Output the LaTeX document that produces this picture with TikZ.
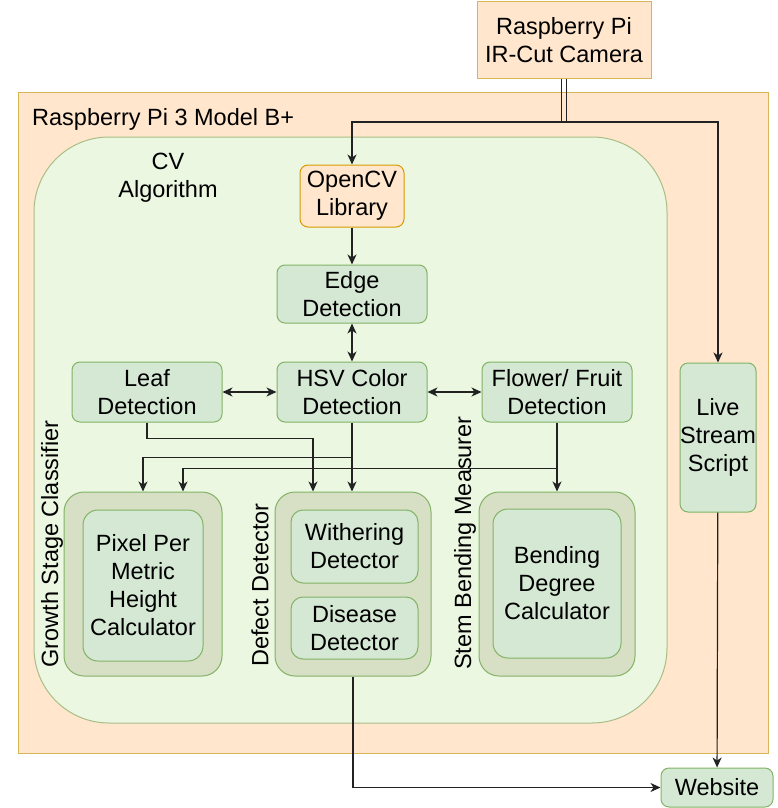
\documentclass[tikz,border=0pt]{standalone}
\usepackage{fontspec}
\setmainfont{Liberation Sans}
\usepackage{tikz}
\usetikzlibrary{arrows.meta}
\definecolor{peach}{HTML}{FFE6CC}
\definecolor{goldline}{HTML}{D6B656}
\definecolor{orangeline}{HTML}{D79B00}
\definecolor{cvfill}{HTML}{EBF7E1}
\definecolor{cvline}{HTML}{A9BE86}
\definecolor{boxfill}{HTML}{D5E8D4}
\definecolor{boxline}{HTML}{82B366}
\definecolor{grpfill}{HTML}{D7DFC5}
\definecolor{wire}{HTML}{222222}
\newcommand{\boxfont}{\fontsize{23.5}{28}\selectfont}
\tikzset{
    punkt/.style={
           rectangle,
           rounded corners=8pt,
           draw=boxline, fill=boxfill, line width=1pt,
           inner sep=0pt,
           align=center,
           font=\boxfont},
    punktor/.style={
           punkt,
           draw=orangeline, fill=peach},
    punktcam/.style={
           rectangle,
           draw=goldline, fill=peach, line width=1pt,
           inner sep=0pt,
           align=center,
           font=\boxfont},
    punktgrp/.style={
           punkt,
           rounded corners=20pt,
           fill=grpfill},
    punktin/.style={
           punkt,
           rounded corners=15pt},
    lbl/.style={inner sep=0pt, align=center, font=\boxfont},
    vlbl/.style={lbl, rotate=90},
    wired/.style={draw=wire, line width=1.2pt},
    >={Stealth[length=10pt,width=9pt,inset=3pt]}
    }
\begin{document}
\begin{tikzpicture}[x=1pt,y=-1pt]
      \useasboundingbox (0,0) rectangle (777,808);
      % board and cv area
      \node[punktcam, minimum width=750pt, minimum height=661pt] (pi) at (393,422.5) {};
      \node[lbl, anchor=base west] at (32,125) {Raspberry Pi 3 Model B+};
      \node[punkt, draw=cvline, fill=cvfill, rounded corners=75pt,
            minimum width=633pt, minimum height=586pt] (cv) at (350.5,430) {};
      \node[lbl] (cvlbl) at (168,178) {CV\\Algorithm};
      % boxes
      \node[punktcam, minimum width=174pt, minimum height=76pt] (cam) at (564,40) {Raspberry Pi\\IR-Cut Camera};
      \node[punktor, minimum width=104pt, minimum height=62pt] (opencv) at (352,196) {OpenCV\\Library};
      \node[punkt, minimum width=150pt, minimum height=58pt] (edge) at (352,294) {Edge\\Detection};
      \node[punkt, minimum width=150pt, minimum height=60pt] (hsv) at (352,392) {HSV Color\\Detection};
      \node[punkt, minimum width=150pt, minimum height=60pt] (leaf) at (147,392) {Leaf\\Detection};
      \node[punkt, minimum width=150pt, minimum height=60pt] (flower) at (557,392) {Flower/ Fruit\\Detection};
      \node[punkt, minimum width=76pt, minimum height=149pt] (live) at (718,437.5) {Live\\Stream\\Script};
      \node[punkt, minimum width=112pt, minimum height=39pt] (web) at (717,787.5) {Website};
      % groups
      \node[punktgrp, minimum width=158pt, minimum height=184pt] (growth) at (143,584) {};
      \node[punktin, minimum width=120pt, minimum height=151pt] (pixel) at (143,585.5) {Pixel Per\\Metric\\Height\\Calculator};
      \node[vlbl] at (52,544) {Growth Stage Classifier};
      \node[punktgrp, minimum width=156pt, minimum height=184pt] (defect) at (353,584) {};
      \node[punkt, rounded corners=12pt, minimum width=127pt, minimum height=73pt] (wither) at (354.5,546.5) {Withering\\Detector};
      \node[punkt, rounded corners=12pt, minimum width=127pt, minimum height=62pt] (disease) at (354.5,628) {Disease\\Detector};
      \node[vlbl] at (260,585) {Defect Detector};
      \node[punktgrp, minimum width=156pt, minimum height=184pt] (stem) at (557,584) {};
      \node[punktin, minimum width=128pt, minimum height=149pt] (bend) at (557,583.5) {Bending\\Degree\\Calculator};
      \node[vlbl] at (465,543) {Stem Bending Measurer};
      % connectors
      \coordinate (split) at (564,122);
      \draw[wired] ([xshift=-2.5pt]cam.south) -- ([xshift=-2.5pt]split);
      \draw[wired] ([xshift=2.5pt]cam.south) -- ([xshift=2.5pt]split);
      \draw[wired,->] (split) -| (opencv.north);
      \draw[wired,->] (split) -| (live.north);
      \draw[wired,->] (opencv) -- (edge);
      \draw[wired,<->] (edge) -- (hsv);
      \draw[wired,<->] (leaf) -- (hsv);
      \draw[wired,<->] (hsv) -- (flower);
      \draw[wired,->] (leaf.south) -- ++(0,16) -| ([xshift=-40pt]defect.north);
      \draw[wired,->] (hsv.south) -- (hsv.south |- defect.north);
      \draw[wired,->] (hsv.south) ++(0,35) -| (growth.north);
      \draw[wired,->] (flower) -- (stem);
      \draw[wired,->] (flower.south) ++(0,46) -| ([xshift=40pt]growth.north);
      \draw[wired,->] (defect.south) |- (web.west);
      \draw[wired,->] (live) -- (web);
\end{tikzpicture}
\end{document}
